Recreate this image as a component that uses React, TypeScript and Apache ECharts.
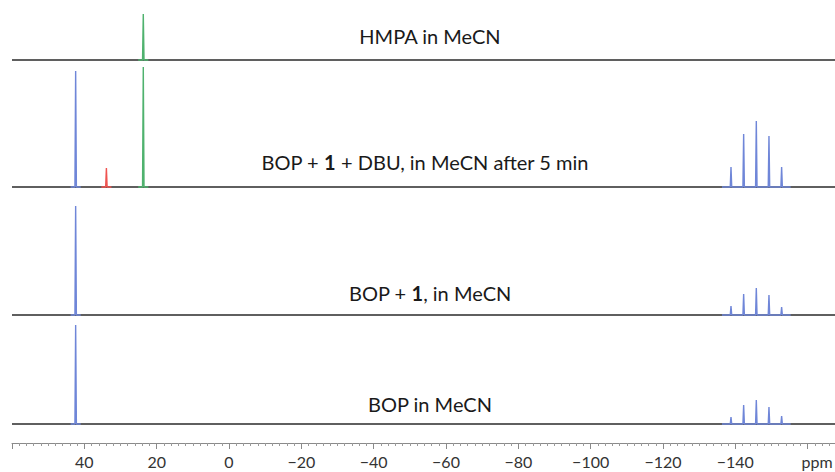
import React, { useEffect, useRef } from "react";
import * as echarts from "echarts";

// ---- axis (ppm) ----
const axisMin = -180;
const axisMax = 60;
const tickStep = 20;
const hiddenTickLabels = [60, -160, -180];
const unitLabel = "ppm";

// ---- traces (stacked spectra, top to bottom) ----
const traceLabels = [
  "HMPA in MeCN",
  "BOP + {b|1} + DBU, in MeCN after 5 min",
  "BOP + {b|1}, in MeCN",
  "BOP in MeCN",
];
// vertical offset of each trace's baseline (intensity units)
const traceBaselines = [383, 256, 128, 19];

// ---- coloured peak groups ----
const groupTrace = [0, 1, 1, 1, 1, 2, 2, 3, 3];
const groupColor = ["green", "blue", "red", "green", "blue", "blue", "blue", "blue", "blue"];
const hmpaShift = [23.7];
const bopShift = [42.4];
const byproductShift = [33.9];
const pf6Shifts = [-138.8, -142.3, -145.8, -149.3, -152.8];
const groupShifts = [hmpaShift, bopShift, byproductShift, hmpaShift, pf6Shifts, bopShift, pf6Shifts, bopShift, pf6Shifts];
const groupHeights = [
  [46],
  [116],
  [19],
  [120],
  [20, 53, 66, 51, 20],
  [109],
  [9, 21, 27, 20, 8],
  [99],
  [7, 19, 24, 17, 8],
];

const COLORS: Record<string, string> = {
  green: "#4fb26e",
  blue: "#6f86d8",
  red: "#ef5350",
};

const FONT = "Lato, 'Liberation Sans', sans-serif";

export default function App() {
  const ref = useRef<HTMLDivElement>(null);

  useEffect(() => {
    if (!ref.current) return;
    const chart = echarts.init(ref.current, undefined, { renderer: "svg" });

    const series: any[] = [];
    traceBaselines.forEach((base, i) => {
      series.push({
        type: "line",
        name: "baseline" + i,
        data: [
          [axisMax, base],
          [axisMin, base],
        ],
        showSymbol: false,
        silent: true,
        lineStyle: { color: "#2a2a2a", width: 1.6 },
        z: 2,
      });
    });

    groupShifts.forEach((shifts, g) => {
      const base = traceBaselines[groupTrace[g]];
      const margin = shifts.length > 1 ? 2.5 : 1.4;
      const hi = Math.max(...shifts) + margin;
      const lo = Math.min(...shifts) - margin;
      const data: number[][] = [[hi, base]];
      shifts.forEach((s, k) => {
        data.push([s + 0.2, base]);
        data.push([s, base + groupHeights[g][k]]);
        data.push([s - 0.2, base]);
      });
      data.push([lo, base]);
      series.push({
        type: "line",
        name: "peaks" + g,
        data,
        showSymbol: false,
        silent: true,
        lineStyle: { color: COLORS[groupColor[g]], width: 1.4 },
        z: 3,
      });
    });

    const labelX = [430, 425, 430, 430];
    const labelY = [36, 162, 293, 404];

    const graphic: any[] = traceLabels.map((t, i) => ({
      type: "text",
      x: labelX[i],
      y: labelY[i],
      silent: true,
      style: {
        text: t,
        fill: "#1a1a1a",
        fontSize: 20,
        fontFamily: FONT,
        align: "center",
        verticalAlign: "middle",
        rich: {
          b: { fontSize: 20, fontFamily: FONT, fontWeight: "bold", fill: "#1a1a1a" },
        },
      },
    }));
    graphic.push({
      type: "text",
      x: 817,
      y: 461,
      silent: true,
      style: {
        text: unitLabel,
        fill: "#333",
        fontSize: 16,
        fontFamily: FONT,
        align: "center",
        verticalAlign: "middle",
      },
    });

    chart.setOption({
      animation: false,
      backgroundColor: "#ffffff",
      grid: {
        left: 12,
        top: 0,
        width: 868,
        height: 443,
        containLabel: false,
        outerBoundsMode: "none",
      },
      xAxis: {
        type: "value",
        min: axisMin,
        max: axisMax,
        interval: tickStep,
        inverse: true,
        splitLine: { show: false },
        axisLine: { show: true, lineStyle: { color: "#8a8a8a", width: 1 } },
        axisTick: { show: true, length: 6, lineStyle: { color: "#8a8a8a" } },
        minorTick: { show: true, splitNumber: 10, length: 3, lineStyle: { color: "#9a9a9a" } },
        axisLabel: {
          margin: 10,
          color: "#333",
          fontSize: 16,
          fontFamily: FONT,
          formatter: (v: number) =>
            hiddenTickLabels.includes(v) ? "" : v < 0 ? "\u2212" + Math.abs(v) : String(v),
        },
      },
      yAxis: {
        type: "value",
        min: 0,
        max: 443,
        show: false,
      },
      series,
      graphic,
    });

    return () => chart.dispose();
  }, []);

  return (
    <div
      ref={ref}
      style={{ position: "fixed", left: 0, top: 0, width: 835, height: 472, overflow: "hidden" }}
    />
  );
}
